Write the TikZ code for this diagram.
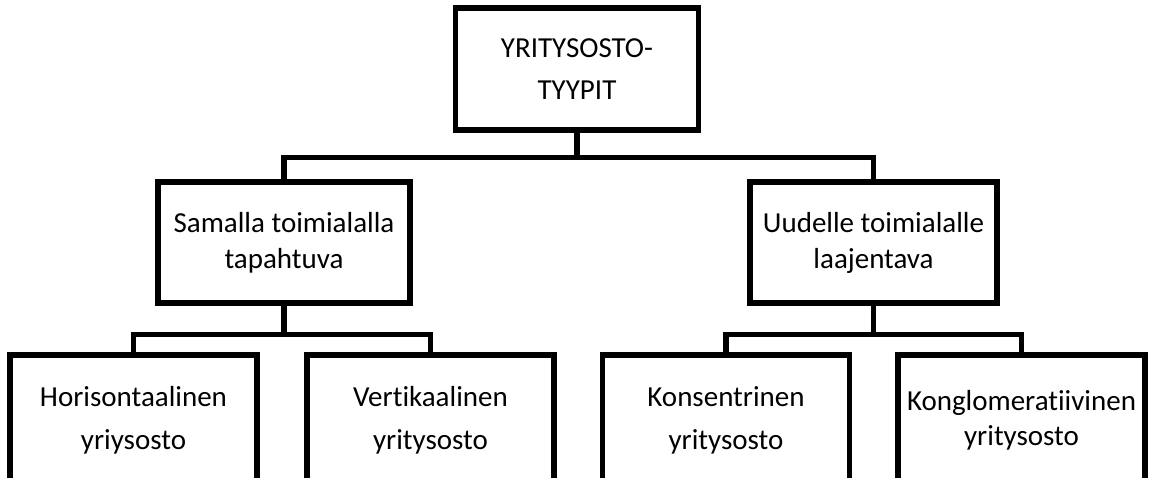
\documentclass[tikz,border=0pt]{standalone}
\usepackage{fontspec}
\setmainfont{Carlito}[Ligatures=NoCommon]
\begin{document}
\begin{tikzpicture}[x=0.02cm,y=-0.02cm,
  typebox/.style={draw,line width=3pt,align=center,inner sep=0pt,minimum width=4.94cm},
  link/.style={line width=3pt}]
\useasboundingbox (0,0) rectangle (1149,477);
% top level
\node[typebox,minimum width=4.86cm,minimum height=2.44cm,font=\fontsize{16.5}{24}\selectfont] (root) at (577,69) {YRITYSOSTO-\\TYYPIT};
% second level
\node[typebox,minimum width=5.04cm,minimum height=2.42cm,font=\fontsize{16.5}{20.5}\selectfont] (samalla) at (284,242.5) {Samalla toimialalla\\tapahtuva};
\node[typebox,minimum height=2.42cm,font=\fontsize{16.5}{20.5}\selectfont] (uudelle) at (873.5,242.5) {Uudelle toimialalle\\laajentava};
% third level
\node[typebox,minimum height=2.6cm,font=\fontsize{16.5}{24.5}\selectfont] (horis) at (133.5,420) {Horisontaalinen\\yriysosto};
\node[typebox,minimum height=2.6cm,font=\fontsize{16.5}{24.5}\selectfont] (vert) at (430.5,420) {Vertikaalinen\\yritysosto};
\node[typebox,minimum height=2.6cm,font=\fontsize{16.5}{24.5}\selectfont] (konsen) at (726,420) {Konsentrinen\\yritysosto};
\node[typebox,minimum height=2.6cm,font=\fontsize{16.5}{20}\selectfont] (konglo) at (1021.5,420) {Konglomeratiivinen\\yritysosto};
% junctions
\path (root.south) ++(0,25) coordinate (j0);
\path (samalla.south) ++(0,29) coordinate (j1);
\path (uudelle.south) ++(0,29) coordinate (j2);
% connectors
\draw[link] (root.south) -- (j0);
\draw[link] (samalla.north) |- (j0) -| (uudelle.north);
\draw[link] (samalla.south) -- (j1);
\draw[link] (horis.north) |- (j1) -| (vert.north);
\draw[link] (uudelle.south) -- (j2);
\draw[link] (konsen.north) |- (j2) -| (konglo.north);
\end{tikzpicture}
\end{document}
